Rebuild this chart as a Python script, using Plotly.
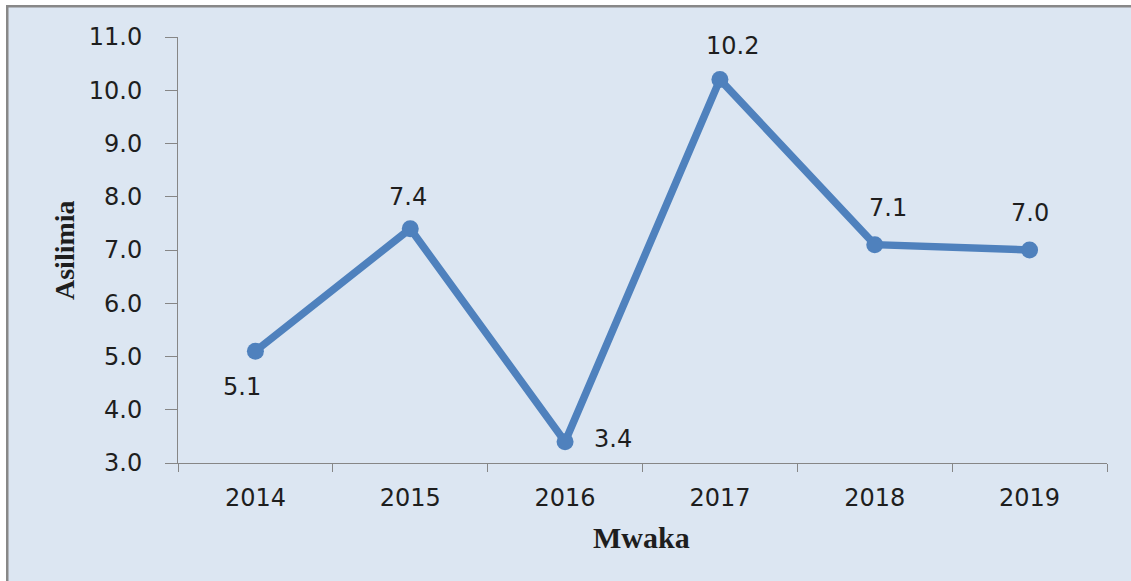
import plotly.graph_objects as go

years = ["2014", "2015", "2016", "2017", "2018", "2019"]
values = [5.1, 7.4, 3.4, 10.2, 7.1, 7.0]
labels = ["5.1", "7.4", "3.4", "10.2", "7.1", "7.0"]
y_ticks = [3.0, 4.0, 5.0, 6.0, 7.0, 8.0, 9.0, 10.0, 11.0]
x_title = "Mwaka"
y_title = "Asilimia"

# label offsets (pixels) relative to each point
label_shift = [(-13, -36), (-2, 32), (48, 3), (13, 34), (13, 37), (0, 37)]

W, H = 1131, 581
L, R, T, B = 178, 24, 37, 118
PW, PH = W - L - R, H - T - B

def px_x(x):
    return (x - L) / PW

def px_y(y):
    return (H - B - y) / PH

BLUE = "#4f81bd"
TXT = "#1e1e1e"
AX = "#868686"
BG = "#dce6f2"

fig = go.Figure()
fig.add_trace(go.Scatter(
    x=years, y=values, mode="lines+markers",
    line=dict(color=BLUE, width=7.5),
    marker=dict(color=BLUE, size=17),
    showlegend=False, hoverinfo="skip",
))

for i, (yv, t, (dx, dy)) in enumerate(zip(values, labels, label_shift)):
    fig.add_annotation(x=i, y=yv, text=t, showarrow=False,
                       xanchor="center", yanchor="middle",
                       xshift=dx, yshift=dy,
                       font=dict(family="DejaVu Sans", size=24, color=TXT))

fig.add_annotation(xref="paper", yref="paper", x=px_x(641), y=px_y(537),
                   xanchor="center", yanchor="middle",
                   text=f"<b>{x_title}</b>", showarrow=False,
                   font=dict(family="Liberation Serif", size=30, color=TXT))
fig.add_annotation(xref="paper", yref="paper", x=px_x(64), y=0.5,
                   xanchor="center", yanchor="middle",
                   text=f"<b>{y_title}</b>", showarrow=False, textangle=-90,
                   font=dict(family="Liberation Serif", size=28, color=TXT))

# outer frame: white margin at top/left and grey border lines
fig.add_shape(type="rect", xref="paper", yref="paper", layer="below",
              x0=px_x(0), x1=px_x(W), y0=px_y(0), y1=px_y(5),
              fillcolor="white", line_width=0)
fig.add_shape(type="rect", xref="paper", yref="paper", layer="below",
              x0=px_x(0), x1=px_x(6), y0=px_y(0), y1=px_y(H),
              fillcolor="white", line_width=0)
fig.add_shape(type="rect", xref="paper", yref="paper", layer="below",
              x0=px_x(6), x1=px_x(W), y0=px_y(5), y1=px_y(7.5),
              fillcolor="#888888", line_width=0)
fig.add_shape(type="rect", xref="paper", yref="paper", layer="below",
              x0=px_x(6), x1=px_x(8.5), y0=px_y(5), y1=px_y(H),
              fillcolor="#888888", line_width=0)

fig.update_layout(
    width=W, height=H,
    margin=dict(l=L, r=R, t=T, b=B, pad=0),
    paper_bgcolor=BG, plot_bgcolor=BG,
    font=dict(family="DejaVu Sans", size=24, color=TXT),
    xaxis=dict(
        type="category", range=[-0.5, 5.5],
        showgrid=False, zeroline=False,
        showline=True, linecolor=AX, linewidth=1,
        ticks="outside", tickson="boundaries", ticklen=8, tickcolor=AX,
        tickfont=dict(family="DejaVu Sans", size=24, color=TXT),
        ticklabelstandoff=13,
    ),
    yaxis=dict(
        range=[3, 11], tickvals=y_ticks,
        ticktext=[f"{v:.1f}" for v in y_ticks],
        showgrid=False, zeroline=False,
        showline=True, linecolor=AX, linewidth=1,
        ticks="outside", ticklen=12, tickcolor=AX,
        tickfont=dict(family="DejaVu Sans", size=24, color=TXT),
        ticklabelstandoff=18,
    ),
)

fig.write_html("out.html")
